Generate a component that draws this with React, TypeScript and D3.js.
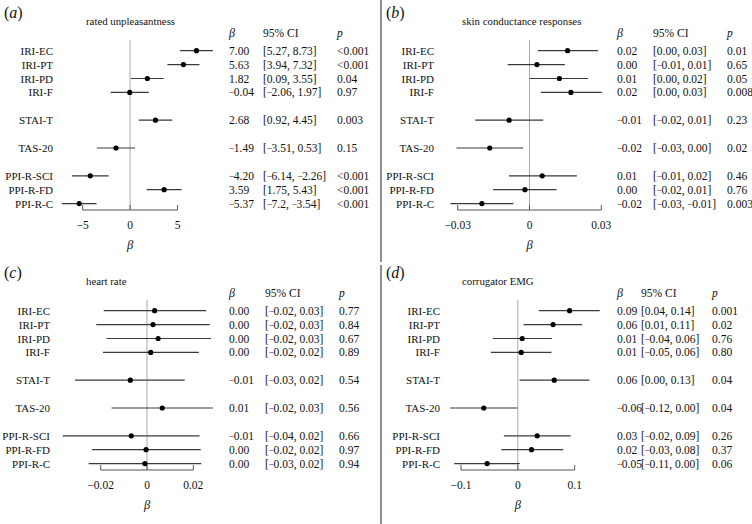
import React from "react";
import * as d3 from "d3";

// ---------- data ----------
const rowLabels = ["IRI-EC", "IRI-PT", "IRI-PD", "IRI-F", "STAI-T", "TAS-20", "PPI-R-SCI", "PPI-R-FD", "PPI-R-C"];
const rowGroups = ["IRI", "IRI", "IRI", "IRI", "STAI", "TAS", "PPI", "PPI", "PPI"];

// (a) rated unpleasantness
const unpEst = [7.0, 5.63, 1.82, -0.04, 2.68, -1.49, -4.2, 3.59, -5.37];
const unpLo = [5.27, 3.94, 0.09, -2.06, 0.92, -3.51, -6.14, 1.75, -7.2];
const unpHi = [8.73, 7.32, 3.55, 1.97, 4.45, 0.53, -2.26, 5.43, -3.54];
const unpBeta = ["7.00", "5.63", "1.82", "−0.04", "2.68", "−1.49", "−4.20", "3.59", "−5.37"];
const unpCI = ["[5.27, 8.73]", "[3.94, 7.32]", "[0.09, 3.55]", "[−2.06, 1.97]", "[0.92, 4.45]", "[−3.51, 0.53]", "[−6.14, −2.26]", "[1.75, 5.43]", "[−7.2, −3.54]"];
const unpP = ["<0.001", "<0.001", "0.04", "0.97", "0.003", "0.15", "<0.001", "<0.001", "<0.001"];
const unpTicks = [-5, 0, 5];

// (b) skin conductance responses
const scrEst = [0.0159, 0.0031, 0.0125, 0.0173, -0.0085, -0.0166, 0.0053, -0.0019, -0.0199];
const scrLo = [0.0035, -0.0091, 0.0001, 0.0047, -0.0227, -0.0305, -0.0086, -0.0152, -0.033];
const scrHi = [0.0286, 0.0148, 0.0245, 0.0302, 0.0057, -0.0026, 0.0198, 0.0113, -0.0067];
const scrBeta = ["0.02", "0.00", "0.01", "0.02", "−0.01", "−0.02", "0.01", "0.00", "−0.02"];
const scrCI = ["[0.00, 0.03]", "[−0.01, 0.01]", "[0.00, 0.02]", "[0.00, 0.03]", "[−0.02, 0.01]", "[−0.03, 0.00]", "[−0.01, 0.02]", "[−0.02, 0.01]", "[−0.03, −0.01]"];
const scrP = ["0.01", "0.65", "0.05", "0.008", "0.23", "0.02", "0.46", "0.76", "0.003"];
const scrTicks = [-0.03, 0, 0.03];

// (c) heart rate
const hrEst = [0.0033, 0.0026, 0.0048, 0.0016, -0.0072, 0.0066, -0.0068, -0.0004, -0.0009];
const hrLo = [-0.0187, -0.0219, -0.0175, -0.019, -0.0311, -0.0153, -0.0364, -0.0237, -0.0252];
const hrHi = [0.0256, 0.0271, 0.0276, 0.0224, 0.0163, 0.0285, 0.0227, 0.0232, 0.0234];
const hrBeta = ["0.00", "0.00", "0.00", "0.00", "−0.01", "0.01", "−0.01", "0.00", "0.00"];
const hrCI = ["[−0.02, 0.03]", "[−0.02, 0.03]", "[−0.02, 0.03]", "[−0.02, 0.02]", "[−0.03, 0.02]", "[−0.02, 0.03]", "[−0.04, 0.02]", "[−0.02, 0.02]", "[−0.03, 0.02]"];
const hrP = ["0.77", "0.84", "0.67", "0.89", "0.54", "0.56", "0.66", "0.97", "0.94"];
const hrTicks = [-0.02, 0, 0.02];

// (d) corrugator EMG
const emgEst = [0.091, 0.062, 0.0076, 0.0059, 0.064, -0.06, 0.034, 0.024, -0.054];
const emgLo = [0.037, 0.01, -0.044, -0.0475, 0.003, -0.119, -0.0246, -0.029, -0.112];
const emgHi = [0.144, 0.113, 0.06, 0.059, 0.126, -0.0006, 0.0927, 0.08, 0.0035];
const emgBeta = ["0.09", "0.06", "0.01", "0.01", "0.06", "−0.06", "0.03", "0.02", "−0.05"];
const emgCI = ["[0.04, 0.14]", "[0.01, 0.11]", "[−0.04, 0.06]", "[−0.05, 0.06]", "[0.00, 0.13]", "[−0.12, 0.00]", "[−0.02, 0.09]", "[−0.03, 0.08]", "[−0.11, 0.00]"];
const emgP = ["0.001", "0.02", "0.76", "0.80", "0.04", "0.04", "0.26", "0.37", "0.06"];
const emgTicks = [-0.1, 0, 0.1];

const FONT = "'Liberation Serif', 'DejaVu Serif', serif";

type PanelProps = {
  letter: string;
  letterX: number;
  title: string;
  ox: number;
  oy: number;
  est: number[];
  lo: number[];
  hi: number[];
  beta: string[];
  ci: string[];
  p: string[];
  ticks: number[];
  range: [number, number];
  labelRight: number;
  cols: [number, number, number];
  zeroWidth: number;
  zeroColor: string;
};

const fmtTick = (v: number) => (v === 0 ? "0" : (v < 0 ? "−" : "") + String(Math.abs(v)));

// Render a number string with a slightly narrower minus sign (as in the reference typesetting)
function Num({ s }: { s: string }) {
  const parts = s.split("−");
  const out: React.ReactNode[] = [];
  parts.forEach((part, i) => {
    if (i > 0) {
      out.push(<tspan key={"m" + i} fontSize={9.5}>−</tspan>);
      out.push(<tspan key={"p" + i} dx={-0.6}>{part}</tspan>);
    } else if (part.length) {
      out.push(<tspan key={"p" + i}>{part}</tspan>);
    }
  });
  return <>{out}</>;
}

function Panel(props: PanelProps) {
  const { letter, title, ox, oy, est, lo, hi, beta, ci, p, ticks, range, labelRight, cols } = props;
  // slot positions: index + number of group changes (leaves a gap between groups)
  const slots: number[] = [];
  let g = 0;
  rowGroups.forEach((grp, i) => {
    if (i > 0 && grp !== rowGroups[i - 1]) g += 1;
    slots.push(i + g);
  });
  const y = d3.scaleLinear().domain([0, d3.max(slots) as number]).range([50.7, 203.6]);
  const x = d3.scaleLinear().domain([ticks[0], ticks[ticks.length - 1]]).range(range);
  const axisY = 210;
  const fs = 11.5;
  return (
    <g transform={`translate(${ox},${oy})`} fontFamily={FONT} fill="#111">
      <text x={props.letterX} y={18} fontSize={16}>
        (<tspan fontStyle="italic">{letter}</tspan>)
      </text>
      <text x={86} y={25} fontSize={10.8}>{title}</text>
      <text x={cols[0]} y={37} fontSize={12} fontStyle="italic">β</text>
      <text x={cols[1]} y={37} fontSize={fs}>95% CI</text>
      <text x={cols[2]} y={37} fontSize={fs} fontStyle="italic">p</text>
      <line x1={x(0)} x2={x(0)} y1={40} y2={axisY} stroke={props.zeroColor} strokeWidth={props.zeroWidth} />
      <line x1={x(ticks[0])} x2={x(ticks[ticks.length - 1])} y1={axisY} y2={axisY} stroke="#555" strokeWidth={1} />
      {ticks.map((t) => (
        <g key={t}>
          <line x1={x(t)} x2={x(t)} y1={axisY} y2={axisY - 5} stroke="#555" strokeWidth={1} />
          <text x={x(t)} y={axisY + 19} fontSize={fs} textAnchor="middle">{fmtTick(t)}</text>
        </g>
      ))}
      <text x={x(0)} y={axisY + 39} fontSize={12.5} fontStyle="italic" textAnchor="middle">β</text>
      {rowLabels.map((lab, i) => {
        const yy = y(slots[i]);
        return (
          <g key={lab}>
            <text x={labelRight} y={yy + 4} fontSize={11} textAnchor="end">{lab}</text>
            <line x1={x(lo[i])} x2={x(hi[i])} y1={yy} y2={yy} stroke="#3a3a3a" strokeWidth={1.2} />
            <circle cx={x(est[i])} cy={yy} r={2.6} fill="#000" />
            <text x={cols[0]} y={yy + 4} fontSize={fs}><Num s={beta[i]} /></text>
            <text x={cols[1]} y={yy + 4} fontSize={fs}><Num s={ci[i]} /></text>
            <text x={cols[2]} y={yy + 4} fontSize={fs}>{p[i]}</text>
          </g>
        );
      })}
    </g>
  );
}

export default function App() {
  return (
    <svg width={752} height={524} style={{ position: "absolute", left: 0, top: 0, background: "#fff" }}>
      <rect width={752} height={524} fill="#fff" />
      <line x1={381} x2={381} y1={0} y2={262} stroke="#444" strokeWidth={1.2} />
      <line x1={381} x2={381} y1={265} y2={524} stroke="#444" strokeWidth={1.2} />
      <Panel letter="a" letterX={4} title="rated unpleasantness" ox={0} oy={0} est={unpEst} lo={unpLo} hi={unpHi}
        beta={unpBeta} ci={unpCI} p={unpP} ticks={unpTicks} range={[82.7, 177.5]} labelRight={53}
        cols={[229, 263, 337]} zeroWidth={1} zeroColor="#aaa" />
      <Panel letter="b" letterX={10} title="skin conductance responses" ox={376} oy={0} est={scrEst} lo={scrLo} hi={scrHi}
        beta={scrBeta} ci={scrCI} p={scrP} ticks={scrTicks} range={[81.7, 225.3]} labelRight={58}
        cols={[241, 277, 351]} zeroWidth={1} zeroColor="#aaa" />
      <Panel letter="c" letterX={4} title="heart rate" ox={0} oy={260} est={hrEst} lo={hrLo} hi={hrHi}
        beta={hrBeta} ci={hrCI} p={hrP} ticks={hrTicks} range={[100.7, 193.3]} labelRight={50}
        cols={[229, 265, 339]} zeroWidth={2} zeroColor="#d4d4d4" />
      <Panel letter="d" letterX={10} title="corrugator EMG" ox={376} oy={260} est={emgEst} lo={emgLo} hi={emgHi}
        beta={emgBeta} ci={emgCI} p={emgP} ticks={emgTicks} range={[85, 198.7]} labelRight={64}
        cols={[241, 265, 336]} zeroWidth={1} zeroColor="#aaa" />
    </svg>
  );
}
